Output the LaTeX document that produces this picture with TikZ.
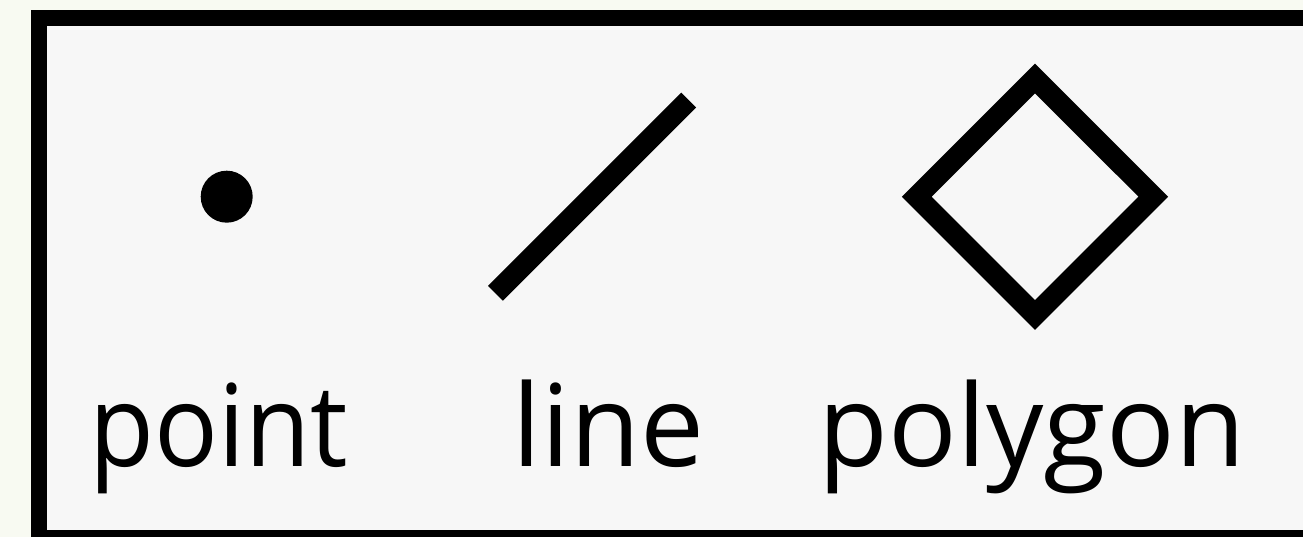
\documentclass[tikz,border=0pt]{standalone}
\usepackage{fontspec}
\setmainfont{Open Sans}
\definecolor{pagebg}{RGB}{248,250,242}
\definecolor{panelbg}{RGB}{247,247,247}
\tikzset{
  panel/.style={draw=black, line width=16pt, fill=panelbg},
  glyph/.style={draw=black, line width=21pt},
  caption/.style={anchor=base, inner sep=0pt, font=\fontsize{114}{130}\selectfont}
}
\begin{document}
\begin{tikzpicture}[x=1pt,y=1pt]
  \useasboundingbox (0,0) rectangle (1303,537);
  \fill[pagebg] (0,0) rectangle (1303,537);
  % framed panel, running off the right and bottom edges
  \draw[panel] (39,-1) rectangle (1330,519);
  % point
  \fill[black] (226.7,340.3) circle (26);
  \node[caption, xscale=0.93] (lblpoint) at (218.5,70) {point};
  % line
  \coordinate (la) at (495.5,243.7);
  \coordinate (lb) at (688.7,437);
  \draw[glyph, line cap=butt] (la) -- (lb);
  \node[caption] (lblline) at (608.5,70) {line};
  % polygon
  \draw[glyph, miter limit=10, line join=miter]
    (1035,458.5) -- (1153.3,340.3) -- (1035,222) -- (916.7,340.3) -- cycle;
  \node[caption] (lblpolygon) at (1032,70) {polygon};
\end{tikzpicture}
\end{document}
